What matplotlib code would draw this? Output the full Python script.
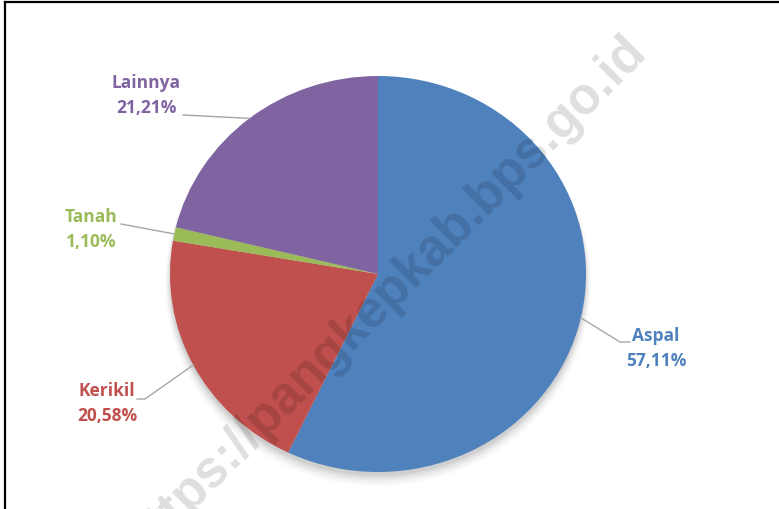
import numpy as np
import matplotlib.pyplot as plt
from matplotlib.lines import Line2D
from matplotlib.patches import Ellipse

categories = ["Aspal", "Kerikil", "Tanah", "Lainnya"]
shares = [57.11, 20.58, 1.10, 21.21]
colors = ["#4F81BD", "#C0504D", "#9BBB59", "#8064A2"]

# label centre and leader elbow positions (pixels from top-left of the figure)
label_xy = [(656, 349), (107, 404), (91, 230), (146, 96)]
elbow_xy = [(620, 343), (145, 400), (121, 225), (183, 116)]

W, H = 779, 510
cx, cy = 378, 275      # pie centre in pixels
rx, ry = 208, 198      # pie radii in pixels

fig = plt.figure(figsize=(W / 100, H / 100), dpi=100)
ax = fig.add_axes([0, 0, 1, 1])


def px(x, y):
    return (x - cx) / rx, (cy - y) / ry


wedges, _ = ax.pie(shares, colors=colors, startangle=90, counterclock=False,
                   radius=1.0, wedgeprops=dict(linewidth=0, zorder=2))

# soft shadow under the pie
for k, a in zip(range(6), np.linspace(0.05, 0.01, 6)):
    ax.add_patch(Ellipse((0.0, -0.02 - 0.006 * k), 2.0 + 0.01 * k, 2.0 + 0.01 * k,
                         color="black", alpha=a, lw=0, zorder=1))

ax.set_xlim(-cx / rx, (W - cx) / rx)
ax.set_ylim(-(H - cy) / ry, cy / ry)
ax.set_aspect("auto")
ax.axis("off")

# watermark
ax.text(*px(386, 296), "https://pangkepkab.bps.go.id", rotation=45, ha="center", va="center",
        fontsize=37, fontweight="bold", family="Liberation Sans", color="black", alpha=0.13,
        rotation_mode="anchor", zorder=5)

for w, name, val, c, (lx, ly), (ex, ey) in zip(wedges, categories, shares, colors, label_xy, elbow_xy):
    ang = np.deg2rad((w.theta1 + w.theta2) / 2)
    x0, y0 = np.cos(ang), np.sin(ang)
    x1, y1 = px(ex, ey)
    if name == "Aspal":
        x2, y2 = px(ex + 10, ey)
    elif name == "Kerikil":
        x2, y2 = px(ex - 8, ey)
    else:
        x2, y2 = x1, y1
    ax.add_line(Line2D([x0, x1, x2], [y0, y1, y2], color="#A6A6A6", lw=1.0, zorder=4))
    txt = f"{name}\n{val:.2f}%".replace(".", ",")
    ax.text(*px(lx, ly), txt, ha="center", va="center", fontsize=12.5, fontweight="bold",
            family="Open Sans", color=c, linespacing=1.5, zorder=6)

# frame lines (top and left)
fig.add_artist(Line2D([4.5 / W, 4.5 / W], [0, 1 - 2.5 / H], transform=fig.transFigure, color="black", lw=1.6))
fig.add_artist(Line2D([4.5 / W, 1], [1 - 2.5 / H, 1 - 2.5 / H], transform=fig.transFigure, color="black", lw=1.6))

fig.savefig("out.png", dpi=100)
